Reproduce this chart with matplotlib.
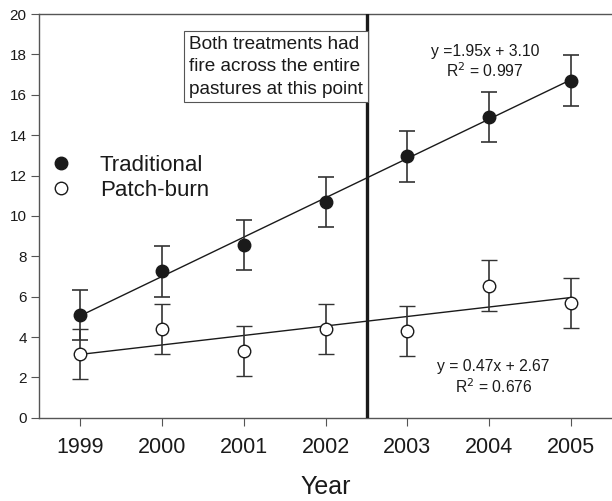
import numpy as np
import matplotlib
matplotlib.use("Agg")
import matplotlib.pyplot as plt
from matplotlib.lines import Line2D

plt.rcParams['font.family'] = ['Liberation Sans', 'DejaVu Sans']

years = [1999, 2000, 2001, 2002, 2003, 2004, 2005]
traditional = [5.1, 7.25, 8.55, 10.7, 12.95, 14.9, 16.7]
traditional_err = [1.25, 1.25, 1.25, 1.25, 1.25, 1.25, 1.25]
patch_burn = [3.15, 4.4, 3.3, 4.4, 4.3, 6.55, 5.7]
patch_burn_err = [1.25, 1.25, 1.25, 1.25, 1.25, 1.25, 1.25]

# fitted lines (x = 1 for 1999 ... 7 for 2005)
trad_fit = (1.95, 3.10)
patch_fit = (0.47, 2.67)

fire_year = 2002.5

fig = plt.figure(figsize=(6.12, 5.01), dpi=100)
ax = fig.add_axes([0.064, 0.166, 0.936, 0.806])

dark = '#1a1a1a'
grey = '#555555'

yrs = np.array(years)
xidx = yrs - years[0] + 1
ax.plot(yrs, trad_fit[0] * xidx + trad_fit[1], color=dark, lw=1.0, zorder=2)
ax.plot(yrs, patch_fit[0] * xidx + patch_fit[1], color=dark, lw=1.0, zorder=2)

ax.errorbar(years, traditional, yerr=traditional_err, fmt='o', color=dark,
            ecolor='#333333', elinewidth=1.2, capsize=6, capthick=1.2,
            markersize=9, zorder=3)
ax.errorbar(years, patch_burn, yerr=patch_burn_err, fmt='o', color=dark,
            mfc='white', mec=dark, mew=1.0, ecolor='#333333', elinewidth=1.2,
            capsize=6, capthick=1.2, markersize=9, zorder=3)

ax.axvline(fire_year, color=dark, lw=2.4, zorder=4)

ax.text(2000.33, 18.9, 'Both treatments had\nfire across the entire\npastures at this point',
        fontsize=13.7, color=dark, va='top', ha='left', linespacing=1.4,
        bbox=dict(boxstyle='square,pad=0.25', fc='white', ec=grey, lw=0.8), zorder=5)

ax.text(2003.95, 18.15, 'y =1.95x + 3.10', fontsize=11.3, color=dark, ha='center', va='center')
ax.text(2003.95, 17.2, 'R$^2$ = 0.997', fontsize=11.3, color=dark, ha='center', va='center')
ax.text(2004.05, 2.55, 'y = 0.47x + 2.67', fontsize=11.3, color=dark, ha='center', va='center')
ax.text(2004.05, 1.55, 'R$^2$ = 0.676', fontsize=11.3, color=dark, ha='center', va='center')

handles = [
    Line2D([], [], ls='none', marker='o', color=dark, markersize=9),
    Line2D([], [], ls='none', marker='o', mfc='white', mec=dark, mew=1.0, markersize=9),
]
leg = ax.legend(handles, ['Traditional', 'Patch-burn'], loc='upper left',
                bbox_to_anchor=(-0.012, 0.69), frameon=False,
                fontsize=16, handletextpad=1.13, labelspacing=0.2,
                borderaxespad=0.3, handlelength=1.2)
for t in leg.get_texts():
    t.set_color(dark)

ax.set_xlim(1998.5, 2005.5)
ax.set_ylim(0, 20)
ax.set_xticks(years)
ax.set_xticklabels([str(y) for y in years], fontsize=15.5, color=dark)
ax.set_yticks(range(0, 21, 2))
ax.set_yticklabels([str(v) for v in range(0, 21, 2)], fontsize=11, color=dark)
ax.tick_params(axis='x', length=6, color=grey, pad=8)
ax.tick_params(axis='y', length=6, color=grey, pad=3)
ax.set_xlabel('Year', fontsize=18, color=dark, labelpad=12)

for s in ['left', 'bottom', 'top']:
    ax.spines[s].set_color(grey)
    ax.spines[s].set_linewidth(1.0)
ax.spines['right'].set_visible(False)

fig.savefig('out.png', dpi=100)
